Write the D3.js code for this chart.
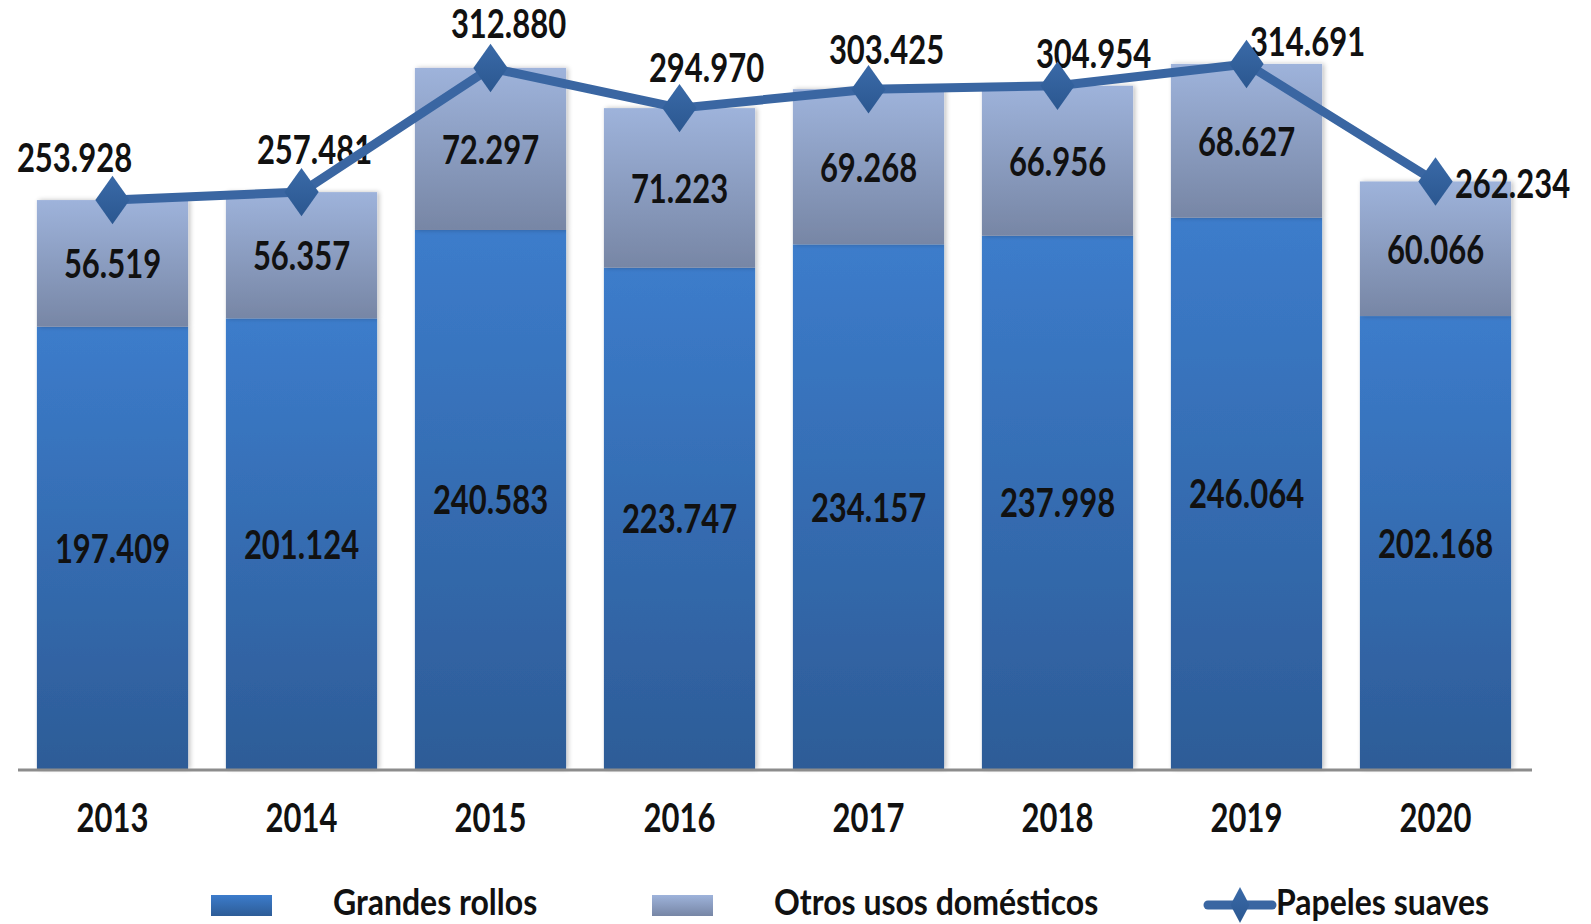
<!DOCTYPE html>
<html>
<head>
<meta charset="utf-8">
<script src="https://cdn.jsdelivr.net/npm/d3@7"></script>
<style>
  html, body { margin: 0; padding: 0; background: #fff; }
  svg text { font-family: Lato, "Open Sans", sans-serif; font-weight: bold; fill: #111; }
</style>
</head>
<body>
<svg id="chart" width="1591" height="924"></svg>
<script>
var years = ["2013", "2014", "2015", "2016", "2017", "2018", "2019", "2020"];
var grandesRollos = [197.409, 201.124, 240.583, 223.747, 234.157, 237.998, 246.064, 202.168];
var otrosUsos = [56.519, 56.357, 72.297, 71.223, 69.268, 66.956, 68.627, 60.066];
var papelesSuaves = [253.928, 257.481, 312.880, 294.970, 303.425, 304.954, 314.691, 262.234];
var seriesNames = ["Grandes rollos", "Otros usos domésticos", "Papeles suaves"];

// label nudges for the line labels (moved by hand in the original)
var lineLabelNudge = [[-38, -43], [13, -43], [18, -45], [27, -41], [18, -40], [36, -33], [61, -23], [77, 2]];

var fmt = function(v){ return v.toFixed(3); };

var svg = d3.select("#chart");
var baseY = 769;

var x = d3.scaleBand().domain(years).range([18, 1530]).paddingInner(0.2).paddingOuter(0.1);
var y = d3.scaleLinear().domain([0, 350]).range([baseY, baseY - 350 * 2.2405]);

var defs = svg.append("defs");
function grad(id, top, bottom){
    var g = defs.append("linearGradient").attr("id", id)
        .attr("x1", "0%").attr("y1", "0%").attr("x2", "0%").attr("y2", "100%");
    g.append("stop").attr("offset", "0%").attr("stop-color", top);
    g.append("stop").attr("offset", "100%").attr("stop-color", bottom);
}
grad("gBlue", "#3c7ccb", "#2d5c97");
grad("gGray", "#9eb3db", "#7786a5");
grad("gDiamond", "#3a6aa8", "#2b5790");

var shadow = defs.append("filter").attr("id", "shadow")
    .attr("x", "-10%").attr("y", "-10%").attr("width", "120%").attr("height", "120%");
shadow.append("feGaussianBlur").attr("in", "SourceAlpha").attr("stdDeviation", 2.5).attr("result", "b");
shadow.append("feOffset").attr("in", "b").attr("dx", 2).attr("dy", 0).attr("result", "o");
shadow.append("feComponentTransfer").attr("in", "o").attr("result", "s")
    .append("feFuncA").attr("type", "linear").attr("slope", 0.25);
var fm = shadow.append("feMerge");
fm.append("feMergeNode").attr("in", "s");
fm.append("feMergeNode").attr("in", "SourceGraphic");

function label(sel, tx, ty, txt, anchor, size, sy){
    sel.append("text")
        .attr("transform", "translate(" + tx + "," + ty + ") scale(1," + (sy || 1.27) + ")")
        .attr("text-anchor", anchor || "middle")
        .attr("dominant-baseline", "central")
        .style("font-size", (size || 31) + "px")
        .text(txt);
}

// bars
var bars = svg.append("g");
years.forEach(function(yr, i){
    var g0 = grandesRollos[i], o = otrosUsos[i];
    bars.append("rect")
        .attr("x", x(yr)).attr("width", x.bandwidth())
        .attr("y", y(g0)).attr("height", y(0) - y(g0))
        .attr("fill", "url(#gBlue)").attr("filter", "url(#shadow)");
    bars.append("rect")
        .attr("x", x(yr)).attr("width", x.bandwidth())
        .attr("y", y(g0 + o)).attr("height", y(g0) - y(g0 + o))
        .attr("fill", "url(#gGray)").attr("filter", "url(#shadow)");
});

// axis
svg.append("line").attr("x1", 18).attr("x2", 1532).attr("y1", baseY + 1).attr("y2", baseY + 1)
    .attr("stroke", "#8c8c8c").attr("stroke-width", 3);

var lbl = svg.append("g");
years.forEach(function(yr, i){
    var cx = x(yr) + x.bandwidth() / 2;
    var g0 = grandesRollos[i], o = otrosUsos[i];
    label(lbl, cx, (y(0) + y(g0)) / 2, fmt(g0));
    label(lbl, cx, (y(g0) + y(g0 + o)) / 2, fmt(o));
    label(lbl, cx, 817, yr);
});

// line
var line = d3.line()
    .x(function(d, i){ return x(years[i]) + x.bandwidth() / 2; })
    .y(function(d){ return y(d); });
svg.append("path").attr("d", line(papelesSuaves))
    .attr("fill", "none").attr("stroke", "#3a66a2").attr("stroke-width", 9)
    .attr("stroke-linejoin", "round");

var diamond = d3.symbol().type(d3.symbolDiamond).size(560);
svg.append("g").selectAll("path").data(papelesSuaves).join("path")
    .attr("d", diamond)
    .attr("transform", function(d, i){
        return "translate(" + (x(years[i]) + x.bandwidth() / 2) + "," + y(d) + ") scale(1.35,1.1)";
    })
    .attr("fill", "url(#gDiamond)");

papelesSuaves.forEach(function(v, i){
    var cx = x(years[i]) + x.bandwidth() / 2;
    label(lbl, cx + lineLabelNudge[i][0], y(v) + lineLabelNudge[i][1], fmt(v));
});

// legend
var leg = svg.append("g");
var ly = 901;
leg.append("rect").attr("x", 211).attr("y", ly - 6).attr("width", 61).attr("height", 21).attr("fill", "url(#gBlue)");
label(leg, 333, ly, seriesNames[0], "start", 32, 1.13);
leg.append("rect").attr("x", 652).attr("y", ly - 6).attr("width", 61).attr("height", 21).attr("fill", "url(#gGray)");
label(leg, 774, ly, seriesNames[1], "start", 32, 1.13);
leg.append("line").attr("x1", 1208).attr("x2", 1272).attr("y1", ly + 4).attr("y2", ly + 4)
    .attr("stroke", "#3a66a2").attr("stroke-width", 9).attr("stroke-linecap", "round");
leg.append("path").attr("d", d3.symbol().type(d3.symbolDiamond).size(260))
    .attr("transform", "translate(1240," + (ly + 4) + ") scale(1.1,1.2)").attr("fill", "url(#gDiamond)");
label(leg, 1276, ly, seriesNames[2], "start", 32, 1.13);
</script>
</body>
</html>
